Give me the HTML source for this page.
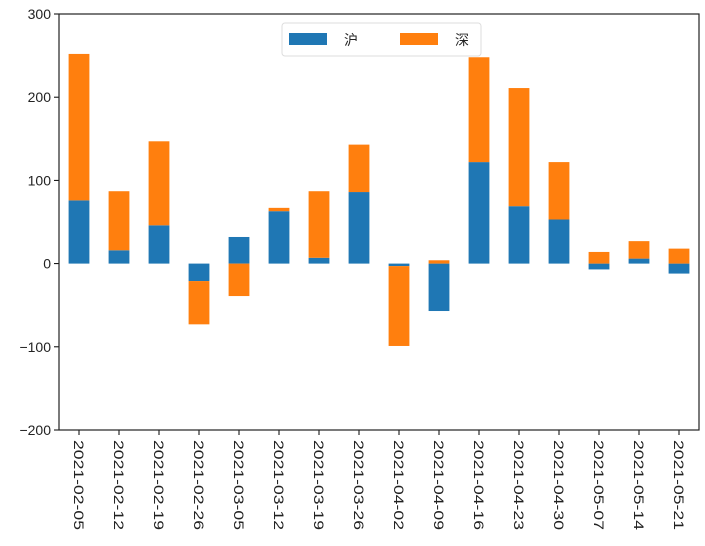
<!DOCTYPE html>
<html><head><meta charset="utf-8"><style>
body{margin:0;background:#fff;}
svg{display:block;font-family:"Liberation Sans","Noto Sans CJK SC",sans-serif;}
</style></head><body>
<svg id="c" width="705" height="546"></svg>
<script>
const categories=["2021-02-05","2021-02-12","2021-02-19","2021-02-26","2021-03-05","2021-03-12","2021-03-19","2021-03-26","2021-04-02","2021-04-09","2021-04-16","2021-04-23","2021-04-30","2021-05-07","2021-05-14","2021-05-21"];
const huValues=[76,16,46,-21,32,63,7,86,-3,-57,122,69,53,-7,6,-12];
const shenValues=[176,71,101,-52,-39,4,80,57,-96,4,126,142,69,14,21,18];
const yTicks=[300,200,100,0,-100,-200];
const L=59,R=699,T=14,B=430,yMin=-200,yMax=300;
const n=categories.length, step=(R-L)/n, bw=step*0.52;
const y=v=>B-(v-yMin)/(yMax-yMin)*(B-T);
const x=i=>L+step*(i+0.5);
const svg=document.getElementById('c');const NS="http://www.w3.org/2000/svg";
function mk(t,a){const e=document.createElementNS(NS,t);for(const k in a)e.setAttribute(k,a[k]);svg.appendChild(e);return e;}
function bar(i,a,b,col,name){const r=mk('rect',{x:x(i)-bw/2,y:Math.min(y(a),y(b)),width:bw,height:Math.abs(y(a)-y(b)),fill:col});

}
categories.forEach((c,i)=>{
 const h=huValues[i],s=shenValues[i];
 bar(i,0,h,'#1f77b4','bar-hu-'+c);
 let base=0;
 if((s>=0&&h>=0)||(s<0&&h<0))base=h;
 bar(i,base,base+s,'#ff7f0e','bar-shen-'+c);
 const tk=mk('line',{x1:x(i),x2:x(i),y1:B,y2:B+5,stroke:'#000','stroke-width':1});
 
 
 const t=mk('text',{x:0,y:0,'font-size':14,fill:'#222',textLength:90,lengthAdjust:'spacingAndGlyphs',transform:`translate(${x(i)-5},${B+10}) rotate(90)`});
 t.textContent=c;
 
 
});
yTicks.forEach(v=>{
 const tk=mk('line',{x1:L-5,x2:L,y1:y(v),y2:y(v),stroke:'#000','stroke-width':1});
 
 
 const t=mk('text',{x:L-8,y:y(v)+5,'font-size':14,'text-anchor':'end',fill:'#222'});
 t.textContent=v<0?'\u2212'+(-v):v;
 
 
});
const fr=mk('rect',{x:L,y:T,width:R-L,height:B-T,fill:'none',stroke:'#222','stroke-width':1.2});


const lg=mk('rect',{x:282,y:23,width:199,height:33,rx:3,fill:'#fff',stroke:'#ddd'});


const s1=mk('rect',{x:289,y:33,width:38,height:12,fill:'#1f77b4'});


const t1=mk('text',{x:344,y:45,'font-size':14,fill:'#222'});t1.textContent='沪';


const s2=mk('rect',{x:400,y:33,width:38,height:12,fill:'#ff7f0e'});


const t2=mk('text',{x:455,y:45,'font-size':14,fill:'#222'});t2.textContent='深';


</script>
</body></html>
